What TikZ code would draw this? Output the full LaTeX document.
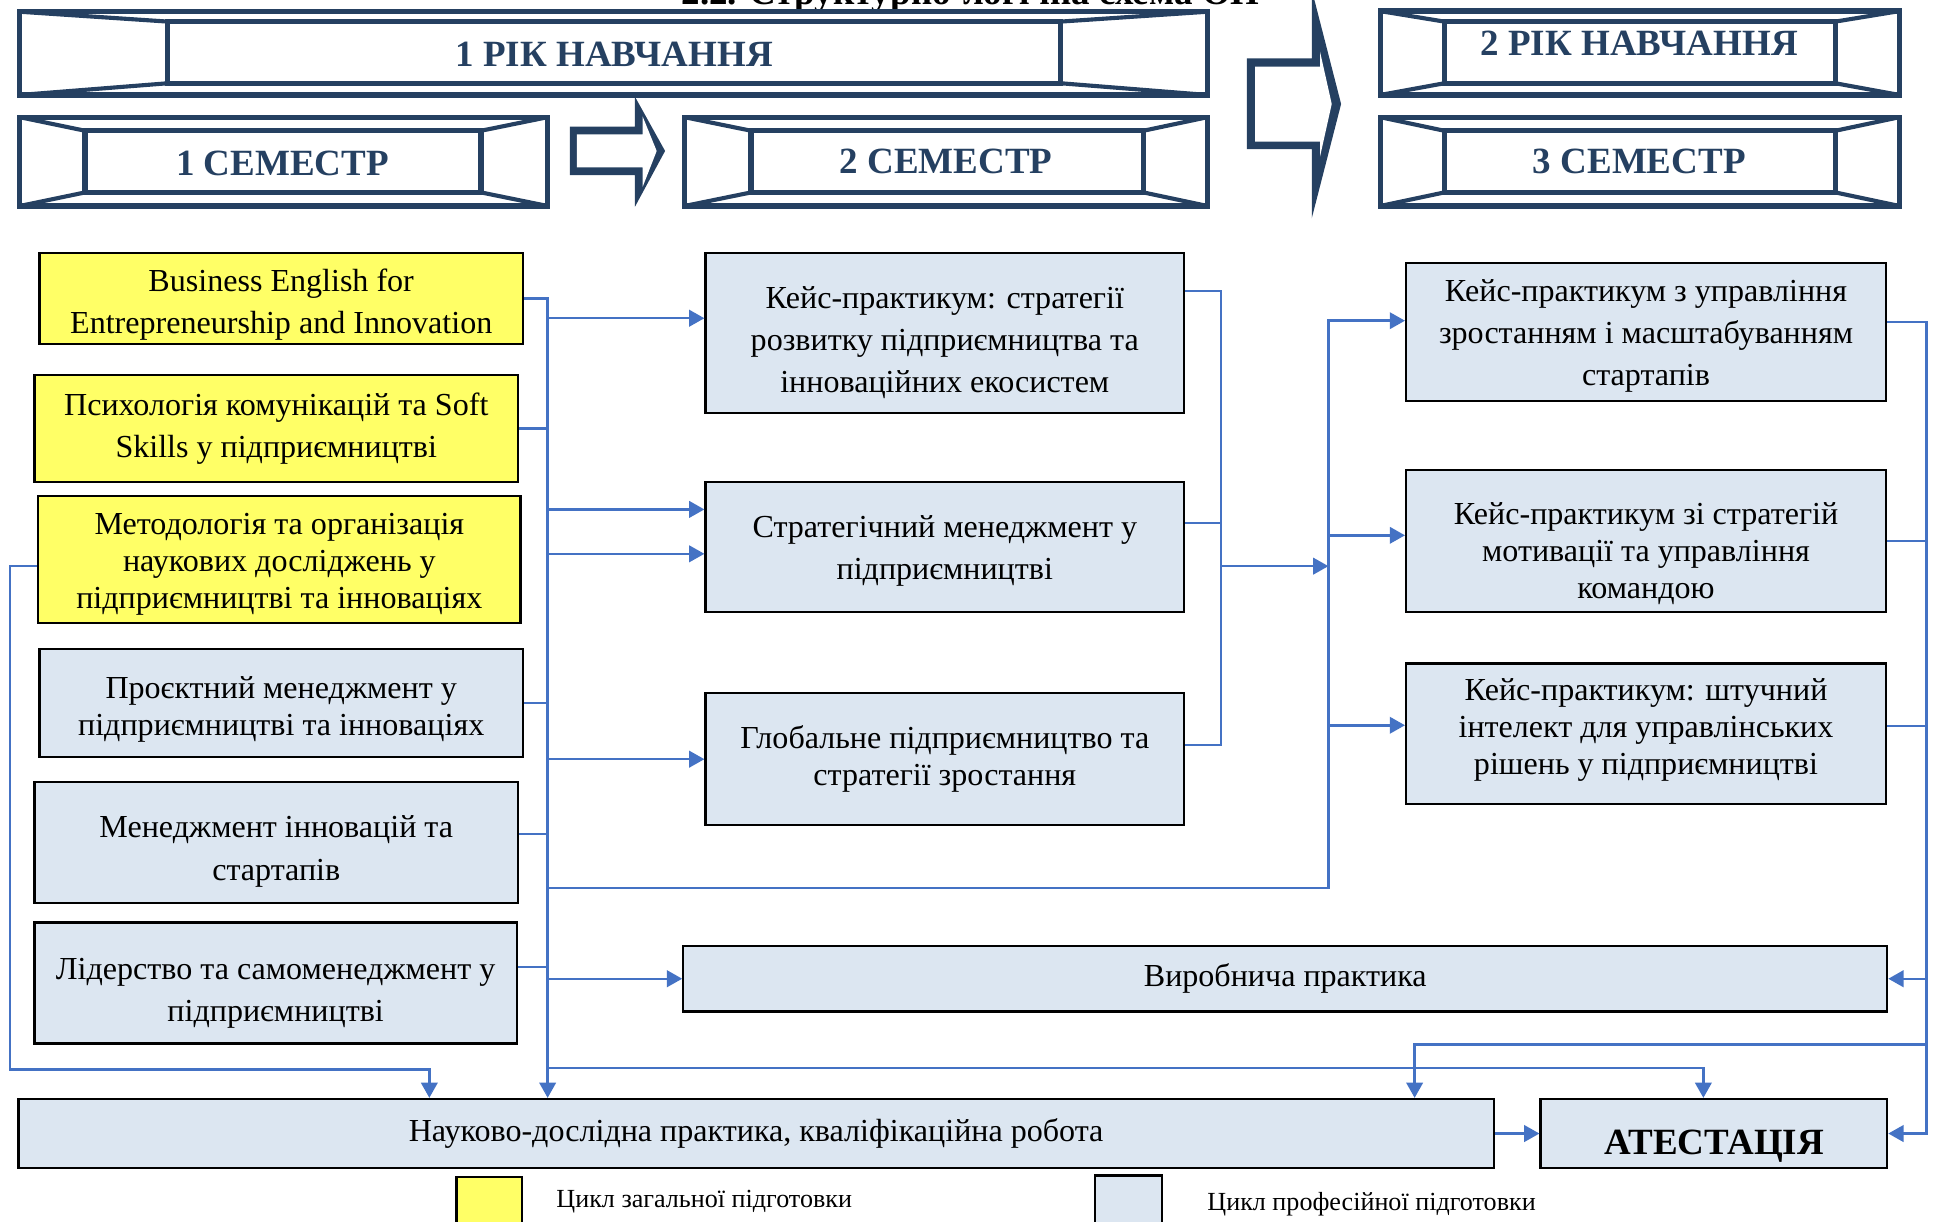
\documentclass[tikz,border=0pt]{standalone}
\usepackage{fontspec}
\setmainfont{Liberation Serif}
\usetikzlibrary{arrows.meta,calc}
\definecolor{navy}{RGB}{37,64,97}
\definecolor{conn}{RGB}{68,114,196}
\definecolor{lblue}{RGB}{220,230,241}
\definecolor{yel}{RGB}{255,255,102}
\newcommand\bevfr[8]{%
  \filldraw[frm,fill=white] (#1,#2) rectangle (#3,#4);
  \draw[dg] (#1,#2) -- (#5,#6) (#3,#2) -- (#7,#6) (#1,#4) -- (#5,#8) (#3,#4) -- (#7,#8);
  \draw[frm] (#5,#6) rectangle (#7,#8);}
\begin{document}
\begin{tikzpicture}[x=0.6pt,y=-0.6pt,
  box/.style={draw=black,line width=1.1pt,fill=lblue,inner sep=0pt},
  ybox/.style={box,fill=yel},
  btxt/.style={inner sep=0pt,align=center,font=\fontsize{15.6}{20.4}\selectfont},
  tight/.style={font=\fontsize{15.6}{18}\selectfont},
  wide/.style={font=\fontsize{15.6}{21}\selectfont},
  wire/.style={draw=conn,line width=1.2pt},
  arr/.style={wire,-{Triangle[length=7.4pt,width=8pt]}},
  frm/.style={draw=navy,line width=2.6pt,line join=miter},
  dg/.style={draw=navy,line width=2pt},
  htxt/.style={text=navy,font=\fontsize{18}{20}\selectfont\bfseries,anchor=base,inner sep=0pt},
  lgt/.style={font=\fontsize{12.7}{15}\selectfont,anchor=base,inner sep=0pt},
]
\useasboundingbox (0,0) rectangle (1568,990);
% title (cut off at top)
\node (title) [font=\fontsize{18}{20}\selectfont\bfseries,anchor=base,inner sep=0pt] at (787,4) {2.2. Структурно-логічна схема ОП};
% header frames
\bevfr{16}{9.5}{979}{77}{136}{17.5}{860}{67.5}
\bevfr{1119}{9}{1540}{77}{1171}{17.5}{1488}{67.5}
\bevfr{16}{95}{444}{167}{69}{106}{390}{156}
\bevfr{555}{95}{979}{167}{609}{106}{927}{156}
\bevfr{1119}{95}{1540}{167}{1171}{106}{1488}{156}
\node (h1) [htxt] at (498,54) {1 РІК НАВЧАННЯ};
\node (h2) [htxt] at (1329,45) {2 РІК НАВЧАННЯ};
\node (s1) [htxt] at (229,142) {1 СЕМЕСТР};
\node (s2) [htxt] at (767,141) {2 СЕМЕСТР};
\node (s3) [htxt] at (1329,141) {3 СЕМЕСТР};
% block arrows
\fill[navy] (462.1,102.7) -- (514.8,102.7) -- (514.8,78.4) -- (539.2,122.4) -- (514.8,167.6) -- (514.8,141.9) -- (462.1,141.9) -- cycle;
\fill[white] (467.6,108.9) -- (521.1,108.9) -- (521.1,94.6) -- (532.4,122.4) -- (521.1,151.3) -- (521.1,135.7) -- (467.6,135.7) -- cycle;
\fill[navy] (1010.8,47.3) -- (1063.5,47.3) -- (1063.5,-8.4) -- (1087.3,84.3) -- (1063.5,177) -- (1063.5,120.8) -- (1010.8,120.8) -- cycle;
\fill[white] (1017.5,54) -- (1070.2,54) -- (1070.2,41.9) -- (1079.7,84.3) -- (1070.2,127) -- (1070.2,114.9) -- (1017.5,114.9) -- cycle;
% boxes
\node (b1) [ybox,minimum width=235.2pt,minimum height=44.4pt] at (228,242) {};
\node (b2) [ybox,minimum width=235.2pt,minimum height=52.2pt] at (224,347.5) {};
\node (b3) [ybox,minimum width=234.6pt,minimum height=61.8pt] at (226.5,453.5) {};
\node (b4) [box,minimum width=235.2pt,minimum height=52.8pt] at (228,570) {};
\node (b5) [box,minimum width=235.2pt,minimum height=58.8pt] at (224,683) {};
\node (b6) [box,minimum width=234.6pt,minimum height=58.8pt] at (223.5,797) {};
\node (b7) [box,minimum width=232.8pt,minimum height=78pt] at (766,270) {};
\node (b8) [box,minimum width=232.8pt,minimum height=63pt] at (766,443.5) {};
\node (b9) [box,minimum width=232.8pt,minimum height=64.2pt] at (766,615.5) {};
\node (b10) [box,minimum width=233.4pt,minimum height=67.2pt] at (1334.5,269) {};
\node (b11) [box,minimum width=233.4pt,minimum height=69pt] at (1334.5,438.5) {};
\node (b12) [box,minimum width=233.4pt,minimum height=68.4pt] at (1334.5,595) {};
\node (b13) [box,minimum width=585.6pt,minimum height=31.8pt] at (1042,793.5) {};
\node (b14) [box,minimum width=717.6pt,minimum height=33.6pt] at (613,919) {};
\node (b15) [box,minimum width=168.6pt,minimum height=33.6pt] at (1389.5,919) {};
% box texts
\node (t1) [btxt] at (228,247) {Business English for\\Entrepreneurship and Innovation};
\node (t2) [btxt] at (224,347.5) {Психологія комунікацій та Soft\\Skills у підприємництві};
\node (t3) [btxt,tight] at (226.5,457.5) {Методологія та організація\\наукових досліджень у\\підприємництві та інноваціях};
\node (t4) [btxt,tight] at (228,575) {Проєктний менеджмент у\\підприємництві та інноваціях};
\node (t5) [btxt,wide] at (224,690) {Менеджмент інновацій та\\стартапів};
\node (t6) [btxt] at (223.5,805) {Лідерство та самоменеджмент у\\підприємництві};
\node (t7) [btxt] at (766,278) {Кейс-практикум: стратегії\\розвитку підприємництва та\\інноваційних екосистем};
\node (t8) [btxt] at (766,446.5) {Стратегічний менеджмент у\\підприємництві};
\node (t9) [btxt,tight] at (766,615.5) {Глобальне підприємництво та\\стратегії зростання};
\node (t10) [btxt] at (1334.5,272) {Кейс-практикум з управління\\зростанням і масштабуванням\\стартапів};
\node (t11) [btxt,tight] at (1334.5,448.5) {Кейс-практикум зі стратегій\\мотивації та управління\\командою};
\node (t12) [btxt,tight] at (1334.5,592) {Кейс-практикум: штучний\\інтелект для управлінських\\рішень у підприємництві};
\node (t13) [btxt] at (1042,793.5) {Виробнича практика};
\node (t14) [btxt] at (613,919) {Науково-дослідна практика, кваліфікаційна робота};
\node (t15) [font=\fontsize{18}{20}\selectfont\bfseries,anchor=base,inner sep=0pt] at (1390,936) {АТЕСТАЦІЯ};
% legend
\node (lg1) [ybox,minimum width=31.8pt,minimum height=27.6pt] at (396.5,977) {};
\node (lg2) [box,minimum width=32.4pt,minimum height=28.2pt] at (915,976.5) {};
\node (lg1t) [lgt] at (571,979) {Цикл загальної підготовки};
\node (lg2t) [lgt] at (1112,981) {Цикл професійної підготовки};
% bus coordinates
\coordinate (Lx) at (444,0);
\coordinate (Mx) at (990,0);
\coordinate (Rx) at (1077,0);
\coordinate (Fx) at (1562,0);
\coordinate (p5) at ([yshift=4.2pt]b5.east);
\coordinate (p6) at ([yshift=7.8pt]b6.east);
\coordinate (p7w) at ([yshift=7.2pt]b7.west);
\coordinate (p8a) at ([yshift=18.3pt]b8.west);
\coordinate (p8b) at ([yshift=-3.3pt]b8.west);
\coordinate (p7e) at ([yshift=20.4pt]b7.east);
\coordinate (p8e) at ([yshift=11.7pt]b8.east);
\coordinate (p9e) at ([yshift=6.9pt]b9.east);
\coordinate (p10w) at ([yshift=5.4pt]b10.west);
\coordinate (p11w) at ([yshift=2.7pt]b11.west);
\coordinate (p12w) at ([yshift=4.2pt]b12.west);
\coordinate (p10e) at ([yshift=4.8pt]b10.east);
\coordinate (p12e) at ([yshift=3.8pt]b12.east);
\coordinate (p3w) at ([yshift=-3.3pt]b3.west);
\coordinate (q14a) at ([xshift=200.4pt]b14.north west);
\coordinate (q14b) at ([xshift=-39pt]b14.north east);
\coordinate (q15) at ([xshift=-5.1pt]b15.north);
\coordinate (j1) at (444,720);
\coordinate (j2) at (444,866);
\coordinate (m2) at (990,459);
\coordinate (f2) at (1562,847);
\coordinate (lc) at (8,867);
% left bus
\draw[arr] (b1.east) -- (b1.east -| Lx) -- (Lx |- b14.north);
\draw[wire] (b2.east) -- (b2.east -| Lx);
\draw[wire] (b4.east) -- (b4.east -| Lx);
\draw[wire] (p5) -- (p5 -| Lx);
\draw[wire] (p6) -- (p6 -| Lx);
\draw[arr] (p7w -| Lx) -- (p7w);
\draw[arr] (p8a -| Lx) -- (p8a);
\draw[arr] (p8b -| Lx) -- (p8b);
\draw[arr] (b9.west -| Lx) -- (b9.west);
\draw[arr] (b13.west -| Lx) -- (b13.west);
% to third semester
\draw[arr] (j1) -- (j1 -| Rx) -- (p10w -| Rx) -- (p10w);
\draw[arr] (p11w -| Rx) -- (p11w);
\draw[arr] (p12w -| Rx) -- (p12w);
% middle bus
\draw[wire] (p7e) -- (p7e -| Mx) -- (p9e -| Mx) -- (p9e);
\draw[wire] (p8e) -- (p8e -| Mx);
\draw[arr] (m2) -- (m2 -| Rx);
% far right bus
\draw[arr] (p10e) -- (p10e -| Fx) -- (Fx |- b15.east) -- (b15.east);
\draw[wire] (b11.east) -- (b11.east -| Fx);
\draw[wire] (p12e) -- (p12e -| Fx);
\draw[arr] (b13.east -| Fx) -- (b13.east);
\draw[arr] (f2) -| (q14b);
\draw[arr] (j2) -| (q15);
\draw[arr] (p3w) -| (lc) -| (q14a);
\draw[arr] (b14.east) -- (b15.west);
\end{tikzpicture}
\end{document}
